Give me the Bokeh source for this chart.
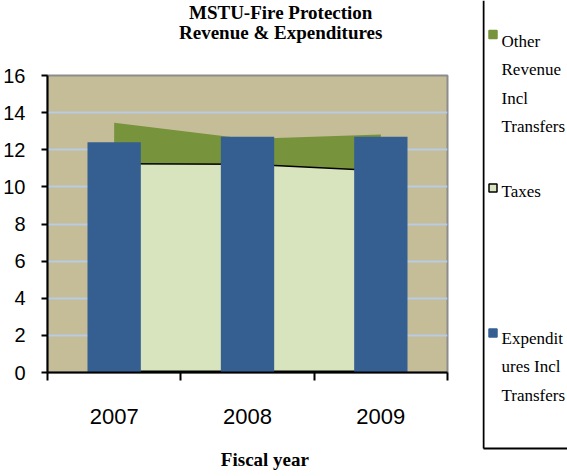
from bokeh.plotting import figure
from bokeh.layouts import row, column
from bokeh.models import Range1d, FixedTicker
from bokeh.embed import file_html
from bokeh.resources import INLINE
from bokeh.core.properties import value

# ---- data ----
years = ["2007", "2008", "2009"]
taxes = [11.25, 11.22, 10.87]
other_revenue = [2.2, 1.36, 1.95]
expenditures = [12.4, 12.7, 12.7]
y_ticks = [0, 2, 4, 6, 8, 10, 12, 14, 16]
legend_names = [["Other", "Revenue", "Incl", "Transfers"], ["Taxes"], ["Expendit", "ures Incl", "Transfers"]]
title_lines = ["MSTU-Fire Protection", "Revenue & Expenditures"]
x_title = "Fiscal year"

# ---- styles ----
C_BG = "#c4bd97"
C_BAR = "#365f91"
C_OTHER = "#77933c"
C_TAX = "#d7e4bd"
C_GRID = "#b8cce4"
SANS = "Liberation Sans"
SERIF = "Liberation Serif"

LEFT_W = 482   # page x 0..482
LEG_W = 85     # page x 482..567
FRAME_L, FRAME_W = 46, 401


def text_panel(w, h, x0, y0):
    """A blank figure whose data coordinates equal page pixels."""
    f = figure(width=w, height=h, x_range=Range1d(x0, x0 + w), y_range=Range1d(y0 + h, y0),
               output_backend="svg", toolbar_location=None, title=None,
               x_axis_location=None, y_axis_location=None, min_border=0,
               background_fill_color="white", border_fill_color="white")
    f.xgrid.visible = False
    f.ygrid.visible = False
    f.outline_line_color = None
    return f


def base(y, fs):
    # text glyphs land a little below the requested alphabetic baseline
    return y - 0.36 * fs


# ---- title panel (page y 0..60) ----
tp = text_panel(LEFT_W, 60, 0, 0)
tp.text(x=[281, 281], y=[base(19, 19), base(38.5, 19)], text=title_lines, text_font=value(SERIF),
        text_font_style="bold", text_font_size="19px", text_align="center",
        text_baseline="alphabetic", text_color="black")

# ---- main plot (page y 60..440) ----
xs = [i + 0.5 for i in range(len(years))]
rev_top = [t + o for t, o in zip(taxes, other_revenue)]

p = figure(width=LEFT_W, height=380, x_range=Range1d(0, len(years)), y_range=Range1d(0, 16),
           output_backend="svg", toolbar_location=None, title=None,
           min_border_left=FRAME_L, min_border_right=LEFT_W - FRAME_L - FRAME_W,
           min_border_top=15, min_border_bottom=68,
           background_fill_color=C_BG, border_fill_color="white")

p.varea(x=xs, y1=[0] * len(xs), y2=taxes, fill_color=C_TAX)
p.varea(x=xs, y1=taxes, y2=rev_top, fill_color=C_OTHER)
p.line(x=xs, y=taxes, line_color="black", line_width=1.5)
p.line(x=xs, y=[0] * len(xs), line_color="black", line_width=4)

p.vbar(x=xs, top=expenditures, width=0.4, fill_color=C_BAR, line_color=None)

xa = p.xaxis[0]
xa.ticker = FixedTicker(ticks=xs, minor_ticks=list(range(len(years) + 1)))
overrides = {}
for xv, yr in zip(xs, years):
    overrides[xv] = yr
    overrides[str(xv)] = yr
xa.major_label_overrides = overrides
xa.major_tick_out = 0
xa.major_tick_in = 0
xa.minor_tick_out = 8
xa.minor_tick_in = 0
xa.minor_tick_line_color = "black"
xa.minor_tick_line_width = 2
xa.axis_line_color = "black"
xa.axis_line_width = 2
xa.major_label_standoff = 28
xa.major_label_text_font = SANS
xa.major_label_text_font_size = "22px"
xa.major_label_text_color = "black"

ya = p.yaxis[0]
ya.ticker = FixedTicker(ticks=y_ticks)
ya.major_tick_out = 6
ya.major_tick_in = 0
ya.minor_tick_line_color = None
ya.major_tick_line_color = "black"
ya.major_tick_line_width = 2
ya.axis_line_color = "black"
ya.axis_line_width = 2
ya.major_label_standoff = 16
ya.major_label_text_font = SANS
ya.major_label_text_font_size = "20px"
ya.major_label_text_color = "black"

p.xgrid.grid_line_color = None
p.ygrid.grid_line_color = C_GRID
p.ygrid.grid_line_width = 2
p.outline_line_color = "#8c8c8c"
p.outline_line_width = 2

# ---- axis title panel (page y 440..476) ----
bp = text_panel(LEFT_W, 36, 0, 440)
bp.text(x=[262], y=[base(466, 19)], text=[x_title], text_font=value(SERIF),
        text_font_style="bold", text_font_size="19px", text_align="center",
        text_baseline="alphabetic", text_color="black")

# ---- legend panel (page x 482..567, y 0..476) ----
lg = text_panel(LEG_W, 476, 482, 0)
lg.line(x=[483, 483], y=[0, 448], line_color="black", line_width=2)
lg.line(x=[483, 567], y=[448, 448], line_color="black", line_width=2)

first_base = [47, 197, 344]
swatch_y = [34, 187.5, 332.5]
sw_fill = [C_OTHER, C_TAX, C_BAR]
sw_line = [C_OTHER, "black", C_BAR]
LFS = 17
tx, ty, tt = [], [], []
for names, b in zip(legend_names, first_base):
    for k, nm in enumerate(names):
        tx.append(501)
        ty.append(base(b + k * 28.5, LFS))
        tt.append(nm)
lg.rect(x=[492.5] * 3, y=swatch_y, width=8, height=8,
        fill_color=sw_fill, line_color=sw_line, line_width=1.5)
lg.text(x=tx, y=ty, text=tt, text_font=value(SERIF), text_font_size=f"{LFS}px",
        text_baseline="alphabetic", text_align="left", text_color="black")

layout = row(column(tp, p, bp), lg)
open("out.html", "w").write(file_html(layout, INLINE))
